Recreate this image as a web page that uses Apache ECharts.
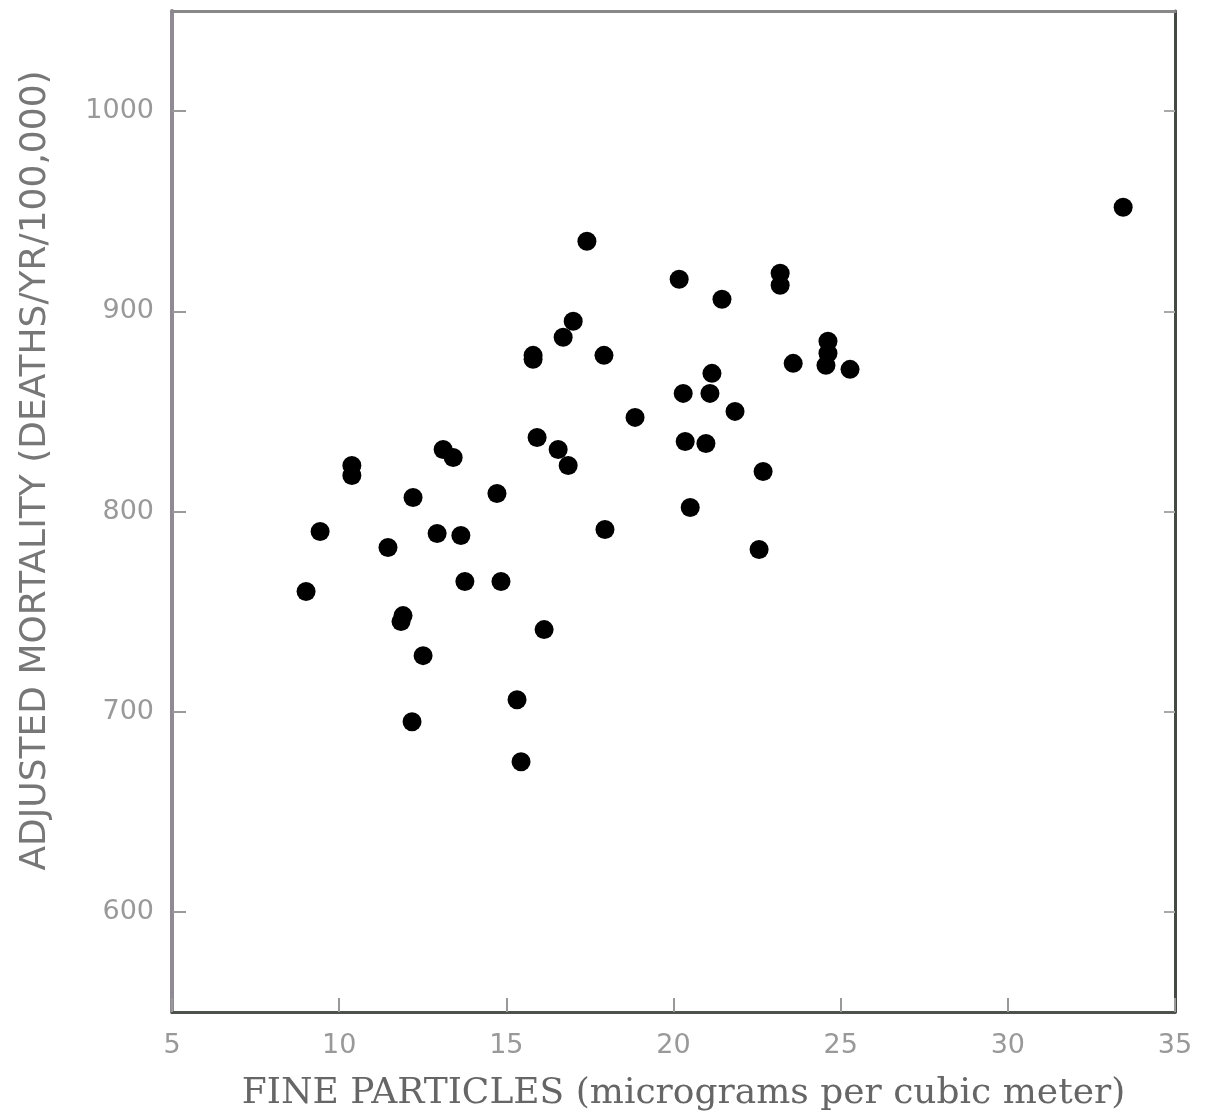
<!DOCTYPE html>
<html>
<head>
<meta charset="utf-8">
<script src="https://cdn.jsdelivr.net/npm/echarts@6/dist/echarts.min.js"></script>
<style>
  html, body { margin: 0; padding: 0; background: #ffffff; }
  #chart { width: 1207px; height: 1117px; }
</style>
</head>
<body>
<div id="chart"></div>
<script>
// values
const fineParticles = [
    9.01, 9.43, 10.38, 10.38, 11.46, 11.91, 11.85, 12.21, 12.18, 12.51,
    12.93, 13.11, 13.41, 13.64, 13.76, 14.72, 14.84, 15.32, 15.44, 16.13,
    15.80, 15.80, 15.92, 16.55, 16.70, 16.85, 17.00, 17.41, 17.92, 17.95,
    18.85, 20.17, 20.29, 20.35, 20.50, 20.97, 21.09, 21.15, 21.45, 21.84,
    22.56, 22.68, 23.19, 23.19, 23.58, 24.62, 24.62, 24.56, 25.28, 33.45
];

const mortality = [
    760, 790, 823, 818, 782, 748, 745, 807, 695, 728,
    789, 831, 827, 788, 765, 809, 765, 706, 675, 741,
    878, 876, 837, 831, 887, 823, 895, 935, 878, 791,
    847, 916, 859, 835, 802, 834, 859, 869, 906, 850,
    781, 820, 919, 913, 874, 885, 879, 873, 871, 952
];

const xTicks = [5, 10, 15, 20, 25, 30, 35];
const yTicks = [600, 700, 800, 900, 1000];

const xTitle = "FINE PARTICLES (micrograms per cubic meter)";
const yTitle = "ADJUSTED MORTALITY (DEATHS/YR/100,000)";

const points = fineParticles.map((x, i) => [x, mortality[i]]);

const chart = echarts.init(document.getElementById("chart"));

chart.setOption({
    animation: false,
    backgroundColor: "#ffffff",
    grid: {
        left: 172,
        right: 32,
        top: 11,
        bottom: 104
    },
    xAxis: [
        {
            type: "value",
            min: xTicks[0],
            max: xTicks[xTicks.length - 1],
            interval: 5,
            position: "bottom",
            name: xTitle,
            nameLocation: "middle",
            nameGap: 64,
            nameTextStyle: {
                fontFamily: "DejaVu Serif",
                fontSize: 36,
                color: "#666666",
                padding: [0, 0, 0, 20]
            },
            axisLine: {
                show: true,
                lineStyle: { color: "#4d524d", width: 3 }
            },
            axisTick: {
                show: true,
                inside: true,
                length: 14,
                lineStyle: { color: "#999999", width: 2 }
            },
            axisLabel: {
                margin: 20,
                fontFamily: "DejaVu Sans",
                fontSize: 27,
                color: "#999999"
            },
            splitLine: { show: false }
        },
        {
            type: "value",
            min: xTicks[0],
            max: xTicks[xTicks.length - 1],
            position: "top",
            axisLine: {
                show: true,
                lineStyle: { color: "#888888", width: 3 }
            },
            axisTick: { show: false },
            axisLabel: { show: false },
            splitLine: { show: false }
        }
    ],
    yAxis: [
        {
            type: "value",
            min: 550,
            max: 1050,
            position: "left",
            name: yTitle,
            nameLocation: "middle",
            nameGap: 118,
            nameTextStyle: {
                fontFamily: "DejaVu Sans",
                fontSize: 36,
                color: "#777777",
                padding: [0, 0, 0, 82]
            },
            axisLine: {
                show: true,
                lineStyle: { color: "#8f8a93", width: 4 }
            },
            axisTick: {
                show: true,
                inside: true,
                length: 14,
                customValues: yTicks,
                lineStyle: { color: "#999999", width: 2 }
            },
            axisLabel: {
                margin: 18,
                customValues: yTicks,
                formatter: v => String(v),
                fontFamily: "DejaVu Sans",
                fontSize: 27,
                color: "#999999"
            },
            splitLine: { show: false }
        },
        {
            type: "value",
            min: 550,
            max: 1050,
            position: "right",
            axisLine: {
                show: true,
                lineStyle: { color: "#454a45", width: 3 }
            },
            axisTick: {
                show: true,
                inside: true,
                length: 11,
                customValues: yTicks,
                lineStyle: { color: "#aaaaaa", width: 2 }
            },
            axisLabel: { show: false },
            splitLine: { show: false }
        }
    ],
    series: [
        {
            type: "scatter",
            xAxisIndex: 0,
            yAxisIndex: 0,
            symbol: "circle",
            symbolSize: 19,
            itemStyle: { color: "#000000", opacity: 1 },
            data: points
        }
    ]
});
</script>
</body>
</html>
